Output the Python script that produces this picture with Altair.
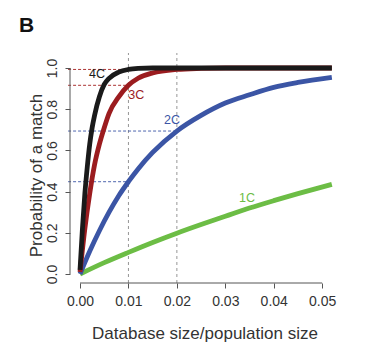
import altair as alt
import pandas as pd

FONT = "Liberation Sans"

# ---- data ----
x4 = [0, 0.0005, 0.001, 0.0015, 0.002, 0.0025, 0.003, 0.004, 0.005, 0.006, 0.008, 0.010, 0.012, 0.015, 0.020, 0.030, 0.040, 0.052]
p4 = [0.02, 0.22, 0.39, 0.52, 0.63, 0.71, 0.77, 0.86, 0.92, 0.95, 0.98, 0.993, 0.998, 1.0, 1.0, 1.0, 1.0, 1.0]

x3 = [0, 0.001, 0.002, 0.003, 0.004, 0.005, 0.006, 0.008, 0.010, 0.012, 0.015, 0.020, 0.025, 0.030, 0.040, 0.052]
p3 = [0.01, 0.22, 0.39, 0.53, 0.63, 0.71, 0.78, 0.86, 0.916, 0.95, 0.976, 0.993, 0.998, 1.0, 1.0, 1.0]

x2 = [0, 0.002, 0.004, 0.006, 0.008, 0.010, 0.012, 0.015, 0.020, 0.025, 0.030, 0.035, 0.040, 0.045, 0.052]
p2 = [0.0, 0.11, 0.21, 0.30, 0.38, 0.448, 0.51, 0.59, 0.694, 0.77, 0.83, 0.87, 0.906, 0.93, 0.955]

x1 = [0, 0.005, 0.010, 0.015, 0.020, 0.025, 0.030, 0.035, 0.040, 0.045, 0.052]
p1 = [0.0, 0.055, 0.105, 0.153, 0.198, 0.24, 0.28, 0.32, 0.356, 0.39, 0.435]

series_names = ["1C", "2C", "3C", "4C"]
series_colors = ["#6cbd45", "#3b55a5", "#9b1c1f", "#1a1a1a"]

label_x = [0.0345, 0.019, 0.0116, 0.0035]
label_y = [0.369, 0.748, 0.869, 0.971]

x_ticks = [0.0, 0.01, 0.02, 0.03, 0.04, 0.05]
y_ticks = [0.0, 0.2, 0.4, 0.6, 0.8, 1.0]

vlines_x = [0.01, 0.02]
hline_y = [0.993, 0.916, 0.694, 0.448]
hline_x2 = [0.02, 0.01, 0.02, 0.01]
hline_color = ["#a31d1d", "#a31d1d", "#3b55a5", "#3b55a5"]

panel_letter = ["B"]

XDOM = [-0.00207, 0.0541]
YDOM = [-0.0437, 1.0728]

rows = []
for name, xs, ps in [("1C", x1, p1), ("2C", x2, p2), ("3C", x3, p3), ("4C", x4, p4)]:
    for a, b in zip(xs, ps):
        rows.append({"series": name, "x": a, "p": b})
curves = pd.DataFrame(rows)

labels = pd.DataFrame({"series": series_names, "x": label_x, "p": label_y})
vl = pd.DataFrame({"x": vlines_x})
hl = pd.DataFrame({"y": hline_y, "x": [XDOM[0] - 0.0004] * 4, "x2": hline_x2, "c": hline_color})

xs = alt.Scale(domain=XDOM, nice=False, zero=False)
ys = alt.Scale(domain=YDOM, nice=False, zero=False)
cs = alt.Scale(domain=series_names, range=series_colors)

xaxis = alt.Axis(values=x_ticks, format=".2f", domain=False, grid=False, tickSize=5,
                 tickColor="#555", tickWidth=1, labelFont=FONT, labelFontSize=14,
                 labelColor="#333", labelPadding=6, title="Database size/population size",
                 titleFont=FONT, titleFontSize=17, titleFontWeight="normal", titleColor="#333",
                 titleX=134.5, titleY=55, titleBaseline="alphabetic", titleAlign="center")
yaxis = alt.Axis(values=y_ticks, format=".1f", domain=False, grid=False, tickSize=5,
                 tickColor="#555", tickWidth=1, labelFont=FONT, labelFontSize=14,
                 labelColor="#333", labelAngle=-90, labelAlign="center", labelBaseline="bottom",
                 labelPadding=6, title="Probability of a match", titleFont=FONT,
                 titleFontSize=17, titleFontWeight="normal", titleColor="#333",
                 titleX=-28.5, titleY=122, titleBaseline="alphabetic", titleAlign="center",
                 titleAngle=270)

vrules = alt.Chart(vl).mark_rule(color="#8a8a8a", strokeDash=[3, 3], strokeWidth=0.9).encode(
    x=alt.X("x:Q", scale=xs, axis=xaxis),
    y=alt.datum(YDOM[0], scale=ys),
    y2=alt.datum(YDOM[1]),
)

hrules = alt.Chart(hl).mark_rule(strokeDash=[3, 2], strokeWidth=0.9).encode(
    x=alt.X("x:Q", scale=xs),
    x2="x2:Q",
    y=alt.Y("y:Q", scale=ys, axis=yaxis),
    color=alt.Color("c:N", scale=None),
)

xdomain = alt.Chart(pd.DataFrame({"a": [x_ticks[0]], "b": [x_ticks[-1]]})).mark_rule(
    color="#555", strokeWidth=1).encode(
    x=alt.X("a:Q", scale=xs), x2="b:Q", y=alt.datum(YDOM[0], scale=ys))
ydomain = alt.Chart(pd.DataFrame({"a": [y_ticks[0]], "b": [y_ticks[-1]]})).mark_rule(
    color="#555", strokeWidth=1).encode(
    y=alt.Y("a:Q", scale=ys), y2="b:Q", x=alt.datum(XDOM[0], scale=xs))

lines = alt.Chart(curves).mark_line(strokeWidth=4.8, interpolate="monotone").encode(
    x=alt.X("x:Q", scale=xs),
    y=alt.Y("p:Q", scale=ys),
    color=alt.Color("series:N", scale=cs, legend=None),
    order=alt.Order("x:Q"),
)

texts = alt.Chart(labels).mark_text(font=FONT, fontSize=12.5).encode(
    x=alt.X("x:Q", scale=xs),
    y=alt.Y("p:Q", scale=ys),
    text="series:N",
    color=alt.Color("series:N", scale=cs, legend=None),
)

letter = alt.Chart(pd.DataFrame({"t": panel_letter})).mark_text(
    font=FONT, fontSize=21, fontWeight="bold", color="#111", align="left", baseline="alphabetic"
).encode(x=alt.value(-51), y=alt.value(-21), text="t:N")

chart = alt.layer(vrules, hrules, xdomain, ydomain, lines, texts, letter).properties(
    width=272, height=230,
    autosize=alt.AutoSizeParams(type="none"),
    padding={"left": 62, "top": 45, "right": 20, "bottom": 60},
).configure_view(stroke=None)

chart.save("out.html", embed_options={"renderer": "svg", "actions": False})
